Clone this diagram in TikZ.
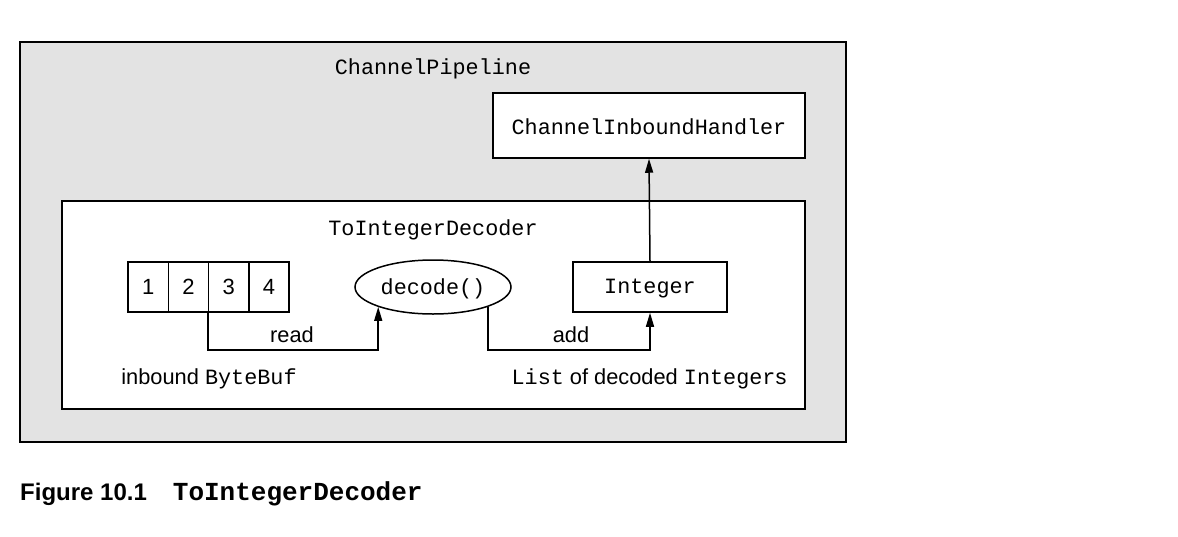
\documentclass[tikz,border=0pt]{standalone}
\usepackage{fontspec}
\setmainfont{Liberation Sans}
\setmonofont{Liberation Mono}
\usetikzlibrary{arrows.meta,shapes.geometric,calc}
\definecolor{pipegray}{HTML}{E3E3E3}
\tikzset{
  box/.style={draw, line width=1.5pt, inner sep=0pt, fill=white},
  cell/.style={box, minimum width=40.25pt, minimum height=50pt, font=\fontsize{22}{24}\selectfont},
  mono/.style={font=\fontsize{21.8}{24}\ttfamily},
  sans/.style={font=\fontsize{21.8}{24}\selectfont},
  conn/.style={line width=1.5pt, -{Triangle[length=14pt,width=8pt]}}
}
\begin{document}
\begin{tikzpicture}[x=1pt,y=-1pt]
\useasboundingbox (0,0) rectangle (1178,536);
% outer pipeline
\node[box, fill=pipegray, minimum width=826pt, minimum height=400pt] (pipe) at (433,242) {};
\node[mono] (pipet) at (433,68.5) {ChannelPipeline};
% inbound handler
\node[box, minimum width=312pt, minimum height=65pt] (cih) at (649,125.5) {};
\node[mono] (cihl) at (649,127) {ChannelInboundHandler};
% decoder box
\node[box, fill=white, minimum width=743pt, minimum height=208pt] (decbox) at (433.5,305) {};
\node[mono] (dect) at (433,229.5) {ToIntegerDecoder};
% byte cells
\node[cell] (c1) at (148.3,287) {1};
\node[cell] (c2) at (188.5,287) {2};
\node[cell] (c3) at (228.8,287) {3};
\node[cell] (c4) at (269,287) {4};
% decode ellipse
\node[box, ellipse, minimum width=156pt, minimum height=54pt] (dec) at (433,287) {};
\node[mono] (decl) at (433,288.5) {decode()};
% integer
\node[box, minimum width=154pt, minimum height=50pt] (int) at (650,287) {};
\node[mono] (intl) at (650,288.5) {Integer};
% connectors
\draw[conn] (c3.south west) -- ++(0,37) coordinate (r1) -| (dec.200);
\draw[conn] (dec.-20) |- ($(int.south)+(0,37)$) coordinate (a1) -- (int.south);
\draw[conn] (int.north) -- (cih.south);
% labels
\node[sans] (readl) at (292,335) {read};
\node[sans] (addl) at (571,335) {add};
\node[sans] (inbl) at (209,379) {inbound \texttt{ByteBuf}};
\node[sans] (listl) at (649,379) {\texttt{List} of decoded \texttt{Integer}s};
% caption
\node[anchor=base west, inner sep=0pt] (cap) at (20,500) {\fontsize{24}{26}\selectfont\bfseries Figure 10.1\hspace{26pt}\fontsize{26}{26}\ttfamily\bfseries ToIntegerDecoder};
\end{tikzpicture}
\end{document}
